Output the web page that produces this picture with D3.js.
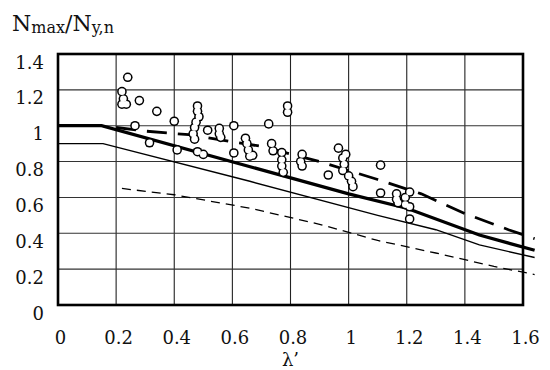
<!DOCTYPE html>
<html><head><meta charset="utf-8">
<script src="https://cdn.jsdelivr.net/npm/d3@7/dist/d3.min.js"></script>
<style>body{margin:0;background:#fff}svg{display:block}text{font-family:"DejaVu Serif",serif}</style>
</head><body><svg id="c" width="550" height="370"></svg>
<script>
const xTicks = [0, 0.2, 0.4, 0.6, 0.8, 1, 1.2, 1.4, 1.6];
const yTicks = [0, 0.2, 0.4, 0.6, 0.8, 1, 1.2, 1.4];
const xTickLabels = ["0","0.2","0.4","0.6","0.8","1","1.2","1.4","1.6"];
const yTickLabels = ["0","0.2","0.4","0.6","0.8","1","1.2","1.4"];

// thick solid curve
const thickX = [0, 0.15, 1.0, 1.2, 1.45, 1.64];
const thickY = [1.0, 1.0, 0.62, 0.54, 0.39, 0.305];
// thin solid curve
const thinX = [0, 0.155, 0.66, 1.1, 1.3, 1.45, 1.64];
const thinY = [0.9, 0.9, 0.69, 0.5, 0.42, 0.335, 0.265];
// thin dashed curve
const dashX = [0.22, 0.4, 0.66, 0.9, 1.1, 1.3, 1.5, 1.64];
const dashY = [0.65, 0.615, 0.54, 0.45, 0.36, 0.29, 0.215, 0.17];
// thick long-dashed curve
const longX = [0.2, 0.3, 0.45, 0.6, 0.7, 0.9, 1.1, 1.25, 1.4, 1.55, 1.64];
const longY = [0.99, 0.97, 0.95, 0.91, 0.885, 0.80, 0.70, 0.62, 0.51, 0.42, 0.37];

// test results
const ptX = [0.24,0.22,0.225,0.235,0.22,0.28,0.34,0.40,0.265,0.315,0.41,
  0.48,0.48,0.485,0.475,0.47,0.465,0.47,0.48,0.50,0.515,
  0.555,0.555,0.56,0.605,0.605,
  0.645,0.65,0.655,0.66,0.67,
  0.725,0.735,0.74,0.77,0.77,0.77,0.775,0.79,0.79,
  0.84,0.835,0.84,
  0.93,0.965,0.98,0.985,0.98,1.0,1.01,1.015,0.99,
  1.11,1.11,1.165,1.165,1.17,1.195,1.195,1.21,1.21,1.21];
const ptY = [1.27,1.19,1.15,1.12,1.12,1.14,1.08,1.025,1.0,0.905,0.865,
  1.11,1.08,1.05,1.02,0.99,0.955,0.925,0.855,0.84,0.975,
  0.985,0.955,0.935,1.0,0.848,
  0.93,0.90,0.865,0.83,0.835,
  1.01,0.90,0.86,0.85,0.81,0.775,0.74,1.11,1.075,
  0.84,0.80,0.775,
  0.725,0.875,0.82,0.785,0.75,0.72,0.69,0.66,0.84,
  0.78,0.625,0.62,0.59,0.57,0.60,0.56,0.63,0.548,0.48];

const L = 58, R = 523, T = 54, B = 305;
const x = d3.scaleLinear().domain([0, 1.6]).range([L, R]);
const y = d3.scaleLinear().domain([0, 1.4]).range([B, T]);
const svg = d3.select("#c");
const font = '"DejaVu Serif",serif';

// grid
const g = svg.append("g");
g.selectAll(".vg").data(xTicks).join("line")
  .attr("x1", d => x(d)).attr("x2", d => x(d)).attr("y1", T).attr("y2", B)
  .attr("stroke", "#222").attr("stroke-width", 1.1);
g.selectAll(".hg").data(yTicks).join("line")
  .attr("x1", L).attr("x2", R).attr("y1", d => y(d)).attr("y2", d => y(d))
  .attr("stroke", "#333").attr("stroke-width", 1.1);

// axes tick labels via d3 axes (lines hidden)
const xAxis = svg.append("g").attr("transform", `translate(0,${B})`)
  .call(d3.axisBottom(x).tickValues(xTicks).tickFormat((d,i) => xTickLabels[i]).tickSize(0).tickPadding(0));
xAxis.select(".domain").remove();
xAxis.selectAll("text").style("font-family", font).style("font-size", "18px").attr("fill", "#111")
  .attr("dx", 2).attr("y", 39).attr("dy", 0);

const yAxis = svg.append("g").attr("transform", `translate(${L},0)`)
  .call(d3.axisLeft(y).tickValues(yTicks).tickFormat((d,i) => yTickLabels[i]).tickSize(0).tickPadding(0));
yAxis.select(".domain").remove();
yAxis.selectAll("text").style("font-family", font).style("font-size", "18px").attr("fill", "#111")
  .attr("x", -14).attr("dy", 14);

// curves
const mk = (xs, ys) => xs.map((v, i) => [v, ys[i]]);
const line = d3.line().x(d => x(d[0])).y(d => y(d[1]));
svg.append("path").attr("d", line(mk(thinX, thinY))).attr("fill", "none")
  .attr("stroke", "#000").attr("stroke-width", 1.4);
svg.append("path").attr("d", line(mk(dashX, dashY))).attr("fill", "none")
  .attr("stroke", "#000").attr("stroke-width", 1.3).attr("stroke-dasharray", "9,6");
svg.append("path").attr("d", line(mk(thickX, thickY))).attr("fill", "none")
  .attr("stroke", "#000").attr("stroke-width", 3.2);
svg.append("path").attr("d", line(mk(longX, longY))).attr("fill", "none")
  .attr("stroke", "#000").attr("stroke-width", 2.8).attr("stroke-dasharray", "20,11");

// points: outline pass then fill pass for merged look
const pts = mk(ptX, ptY);
const r = 4;
svg.append("g").selectAll("circle").data(pts).join("circle")
  .attr("cx", d => x(d[0])).attr("cy", d => y(d[1])).attr("r", r + 0.8)
  .attr("fill", "#000");
svg.append("g").selectAll("circle").data(pts).join("circle")
  .attr("cx", d => x(d[0])).attr("cy", d => y(d[1])).attr("r", r - 0.7)
  .attr("fill", "#fff");

// frame
svg.append("rect").attr("x", L).attr("y", T).attr("width", R - L).attr("height", B - T)
  .attr("fill", "none").attr("stroke", "#000").attr("stroke-width", 2.6);

// titles
const t = svg.append("text").attr("x", 12).attr("y", 31).style("font-family", font)
  .style("font-size", "22px").attr("fill", "#111");
t.append("tspan").text("N");
t.append("tspan").style("font-size", "16px").attr("dy", 2).text("max");
t.append("tspan").attr("dy", -2).text("/N");
t.append("tspan").style("font-size", "16px").attr("dy", 2).text("y,n");

svg.append("text").attr("x", (L + R) / 2).attr("y", 366).attr("text-anchor", "middle")
  .style("font-family", font).style("font-size", "18px").attr("fill", "#111").text("λ’");
</script></body></html>
